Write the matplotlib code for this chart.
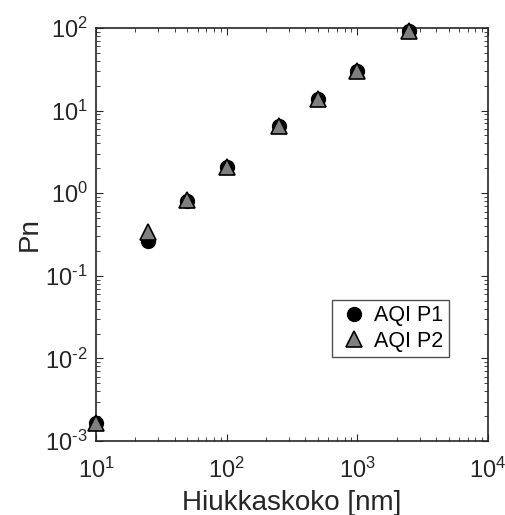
import numpy as np
import matplotlib.pyplot as plt
from matplotlib.ticker import FuncFormatter

plt.rcParams['font.family'] = ['Liberation Sans', 'DejaVu Sans']
plt.rcParams['mathtext.fontset'] = 'custom'
plt.rcParams['mathtext.rm'] = 'Liberation Sans'

# particle size [nm] and penetration values for the two purifiers
size_nm = [10, 25, 50, 100, 250, 500, 1000, 2500]
pn_p1 = [0.00165, 0.265, 0.81, 2.1, 6.6, 14.0, 30.0, 93.0]
pn_p2 = [0.00165, 0.34, 0.83, 2.1, 6.6, 14.0, 30.0, 93.0]


def pow10(v, pos):
    e = int(round(np.log10(v)))
    if e < 0:
        return r'$\mathregular{10^{\text{-}%d}}$' % (-e)
    return r'$\mathregular{10^{%d}}$' % e


fig = plt.figure(figsize=(5.06, 5.15), dpi=100)
ax = fig.add_axes([96/506, 1 - 441/515, 392/506, 413/515])

ax.plot(size_nm, pn_p1, 'o', color='black', markersize=10, label='AQI P1',
        clip_on=False, zorder=3)
ax.plot(size_nm, pn_p2, '^', markerfacecolor='#808080', markeredgecolor='black',
        markeredgewidth=1.2, markersize=11, label='AQI P2', clip_on=False, zorder=4)

ax.set_xscale('log')
ax.set_yscale('log')
ax.set_xlim(10, 1e4)
ax.set_ylim(1e-3, 1e2)
ax.set_xticks([1e1, 1e2, 1e3, 1e4])
ax.set_yticks([1e-3, 1e-2, 1e-1, 1e0, 1e1, 1e2])
ax.xaxis.set_major_formatter(FuncFormatter(pow10))
ax.yaxis.set_major_formatter(FuncFormatter(pow10))

ax.tick_params(which='both', direction='in', top=True, right=True,
               colors='#262626', labelcolor='#262626', labelsize=17)
ax.tick_params(which='major', length=5, width=0.8)
ax.tick_params(which='minor', length=3, width=0.6)
ax.tick_params(axis='x', pad=12)
ax.tick_params(axis='y', pad=6)
for s in ax.spines.values():
    s.set_color('#262626')
    s.set_linewidth(1.2)

ax.set_xlabel('Hiukkaskoko [nm]', fontsize=20, color='#262626', labelpad=5)
ax.set_ylabel('Pn', fontsize=20, color='#262626', labelpad=2)

leg = ax.legend(loc='lower right', bbox_to_anchor=(0.9005, 0.203), fontsize=15.5,
                frameon=True, fancybox=False, edgecolor='#262626',
                handletextpad=0.2, handlelength=1.5, borderpad=0.25,
                labelspacing=0.2, borderaxespad=0)
leg.get_frame().set_linewidth(1.0)

fig.savefig('out.png', dpi=100)
